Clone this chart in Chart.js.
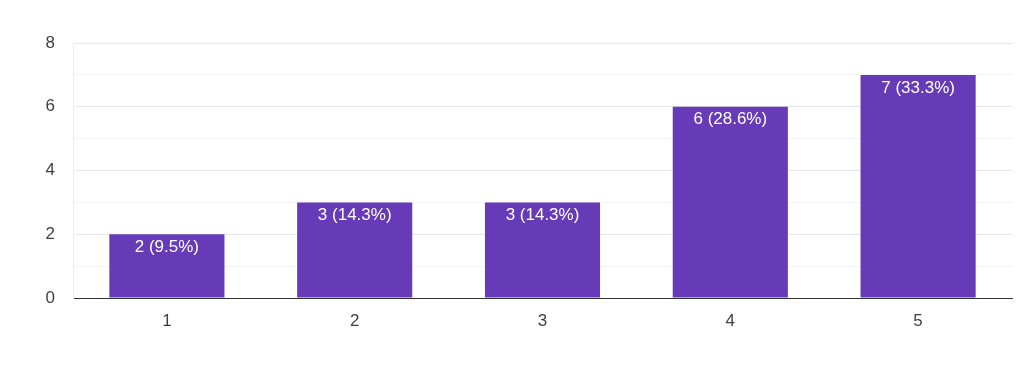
<!DOCTYPE html>
<html>
<head>
<meta charset="utf-8">
<script src="https://cdn.jsdelivr.net/npm/chart.js@4/dist/chart.umd.min.js"></script>
<style>
html,body{margin:0;padding:0;background:#fff;}
#wrap{width:1024px;height:382px;position:relative;}
</style>
</head>
<body>
<div id="wrap"><canvas id="c" width="1024" height="382"></canvas></div>
<script>
const categories = ['1', '2', '3', '4', '5'];
const counts = [2, 3, 3, 6, 7];
const percentLabels = ['9.5%', '14.3%', '14.3%', '28.6%', '33.3%'];
const yTickLabels = [0, 2, 4, 6, 8];

const FONT = 'Arial, "Liberation Sans", Helvetica, sans-serif';
const TEXT = '#3f3f3f';

const barLabels = {
  id: 'barLabels',
  afterDatasetsDraw(chart) {
    const ctx = chart.ctx;
    const meta = chart.getDatasetMeta(0);
    ctx.save();
    ctx.fillStyle = '#ffffff';
    ctx.font = '17px ' + FONT;
    ctx.textAlign = 'center';
    ctx.textBaseline = 'middle';
    meta.data.forEach((bar, i) => {
      ctx.fillText(counts[i] + ' (' + percentLabels[i] + ')', bar.x, bar.y + 13);
    });
    ctx.restore();
  }
};

new Chart(document.getElementById('c'), {
  type: 'bar',
  data: {
    labels: categories,
    datasets: [{
      data: counts,
      backgroundColor: '#673ab7',
      borderWidth: 0,
      categoryPercentage: 0.613,
      barPercentage: 1.0
    }]
  },
  options: {
    responsive: false,
    animation: false,
    devicePixelRatio: 1,
    layout: { padding: { top: 43, right: 12, left: 0, bottom: 0 } },
    plugins: { legend: { display: false }, tooltip: { enabled: false } },
    scales: {
      x: {
        offset: true,
        grid: {
          offset: true,
          drawTicks: false,
          color: (c) => c.index === categories.length ? '#eeeeee' : 'rgba(0,0,0,0)'
        },
        border: { color: '#333333', width: 1 },
        ticks: { padding: 13, color: TEXT, font: { family: FONT, size: 17 } },
        afterFit: (s) => { s.height = 84; }
      },
      y: {
        min: 0,
        max: 8,
        ticks: {
          stepSize: 1,
          padding: 18,
          color: TEXT,
          font: { family: FONT, size: 17 },
          callback: (v) => yTickLabels.includes(v) ? String(v) : ''
        },
        grid: {
          drawTicks: false,
          color: (c) => (c.tick && c.tick.value % 2 === 0) ? '#e6e6e6' : '#f4f4f4'
        },
        border: { color: '#eeeeee', width: 1 },
        afterFit: (s) => { s.width = 73; }
      }
    }
  },
  plugins: [barLabels]
});
</script>
</body>
</html>
